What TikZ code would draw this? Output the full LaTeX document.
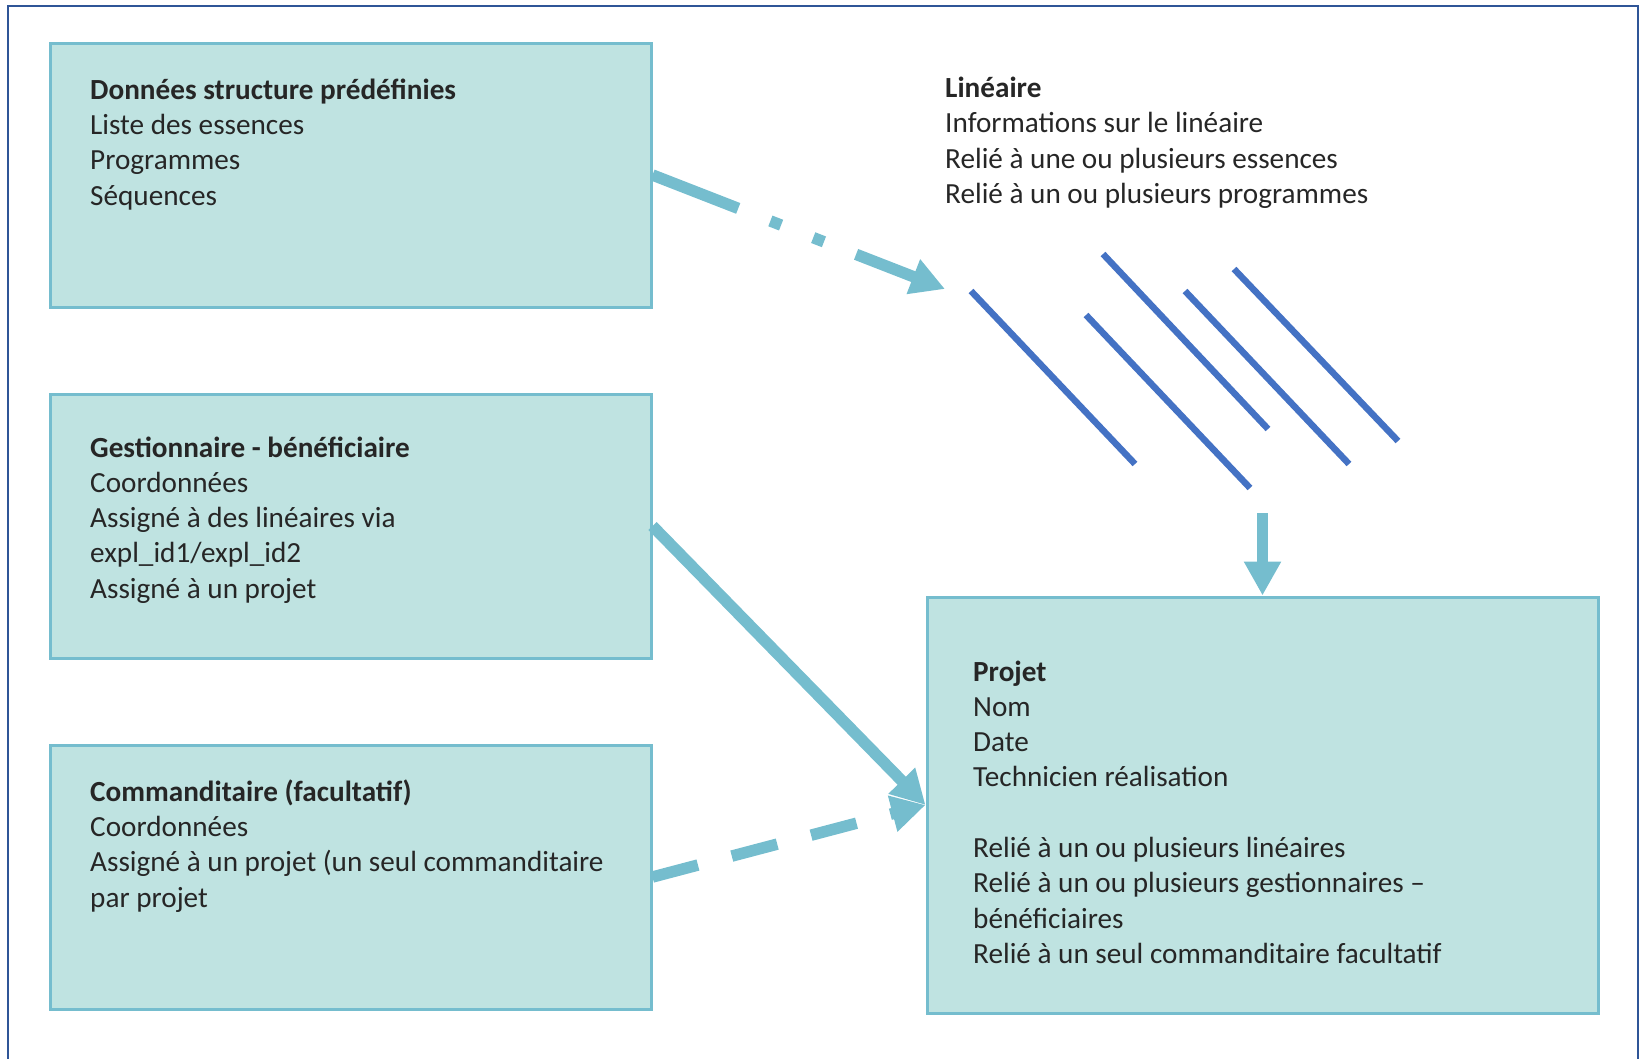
\documentclass[tikz,border=0pt]{standalone}
\usepackage{fontspec}
\setmainfont{Carlito}
\usetikzlibrary{arrows.meta}
\definecolor{frameblue}{RGB}{47,85,151}
\definecolor{boxfill}{RGB}{191,227,225}
\definecolor{boxline}{RGB}{117,189,206}
\definecolor{linkcol}{RGB}{117,189,206}
\definecolor{stripecol}{RGB}{68,114,196}
\definecolor{txt}{RGB}{38,38,38}
\begin{document}
\begin{tikzpicture}[x=1pt,y=-1pt,
  entity/.style={draw=boxline, line width=3pt, fill=boxfill, inner sep=0pt},
  label text/.style={anchor=base west, align=left, inner sep=0pt, text=txt,
    font=\fontsize{29.2}{35.3}\selectfont},
  link/.style={draw=linkcol, line width=11.5pt, -{Triangle[length=34pt,width=35pt]}},
  stripe/.style={draw=stripecol, line width=6.5pt}]
\useasboundingbox (0,0) rectangle (1640,1058);
% outer frame
\draw[frameblue, line width=2.5pt] (8,1060) -- (8,6) -- (1638,6) -- (1638,1060);

% boxes
\node[entity, minimum width=601pt, minimum height=264pt] (box1) at (350.5,175) {};
\node[entity, minimum width=601pt, minimum height=264pt] (box2) at (350.5,526) {};
\node[entity, minimum width=601pt, minimum height=264pt] (box3) at (350.5,877) {};
\node[entity, minimum width=671pt, minimum height=416pt] (projet) at (1262.5,805) {};

% texts (anchored at the baseline of their last line)
\node[label text] (t1) at (90,205) {\textbf{Données structure prédéfinies}\\Liste des essences\\Programmes\\Séquences};
\node[label text] (t2) at (945,203.4) {\textbf{Linéaire}\\Informations sur le linéaire\\Relié à une ou plusieurs essences\\Relié à un ou plusieurs programmes};
\node[label text] (t3) at (90,598.2) {\textbf{Gestionnaire - bénéficiaire}\\Coordonnées\\Assigné à des linéaires via\\expl\_id1/expl\_id2\\Assigné à un projet};
\node[label text] (t4) at (90,907) {\textbf{Commanditaire (facultatif)}\\Coordonnées\\Assigné à un projet (un seul commanditaire\\par projet};
\node[label text] (t5) at (973,963.4) {\textbf{Projet}\\Nom\\Date\\Technicien réalisation\\ ~\\Relié à un ou plusieurs linéaires\\Relié à un ou plusieurs gestionnaires –\\bénéficiaires\\Relié à un seul commanditaire facultatif};

% stripes (linéaires)
\draw[stripe] (971,291) -- (1135,464);
\draw[stripe] (1103,254) -- (1268,429);
\draw[stripe] (1086,315) -- (1250,488);
\draw[stripe] (1185,291) -- (1349,464);
\draw[stripe] (1234,269) -- (1398,441);

% connectors
\coordinate (linTip) at (945,289);
\coordinate (linOut) at (1262.5,513);
\draw[link, dash pattern=on 92pt off 34.5pt on 11.5pt off 34.5pt on 11.5pt off 34.5pt] (box1.east) -- (linTip);
\draw[link] (box2.east) -- (projet.west);
\draw[link, dash pattern=on 47pt off 35pt] (box3.east) -- (projet.west);
\draw[link] (linOut) -- (projet.north);
\end{tikzpicture}
\end{document}
